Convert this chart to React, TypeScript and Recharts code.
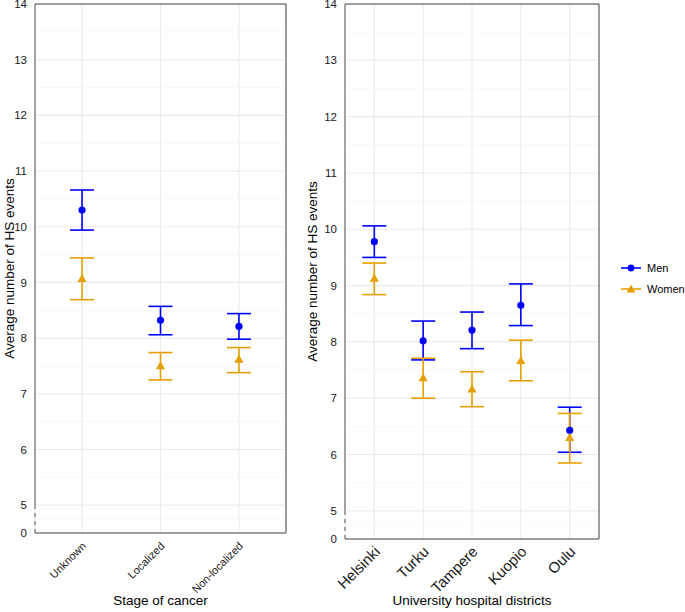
import React from "react";
import {
  ScatterChart,
  Scatter,
  XAxis,
  YAxis,
  CartesianGrid,
  ErrorBar,
  ReferenceLine,
} from "recharts";

const BLUE = "#0000FF";
const ORANGE = "#E69F00";
const FONT = '"Liberation Sans", Arial, Helvetica, sans-serif';

// stage of cancer panel
const stageCategories = ["Unknown", "Localized", "Non-localized"];
const stageMenMean = [10.3, 8.32, 8.21];
const stageMenLow = [9.94, 8.06, 7.98];
const stageMenHigh = [10.66, 8.57, 8.44];
const stageWomenMean = [9.07, 7.5, 7.62];
const stageWomenLow = [8.69, 7.25, 7.38];
const stageWomenHigh = [9.44, 7.74, 7.83];

// hospital district panel
const districts = ["Helsinki", "Turku", "Tampere", "Kuopio", "Oulu"];
const distMenMean = [9.78, 8.02, 8.21, 8.65, 6.43];
const distMenLow = [9.5, 7.68, 7.88, 8.29, 6.04];
const distMenHigh = [10.06, 8.37, 8.53, 9.03, 6.84];
const distWomenMean = [9.13, 7.36, 7.16, 7.67, 6.3];
const distWomenLow = [8.84, 7.0, 6.85, 7.31, 5.85];
const distWomenHigh = [9.4, 7.71, 7.47, 8.03, 6.73];

// y axis is broken: 4.5 stands for "0"
const yTicks = [4.5, 5, 6, 7, 8, 9, 10, 11, 12, 13, 14];
const yMinor = [4.75, 5.5, 6.5, 7.5, 8.5, 9.5, 10.5, 11.5, 12.5, 13.5];

const rows = (mean: number[], low: number[], high: number[]) =>
  mean.map((m, i) => ({ x: i + 1, y: m, err: [m - low[i], high[i] - m] }));

const CircleShape = (p: any) => <circle cx={p.cx} cy={p.cy} r={3.6} fill={BLUE} />;
const TriangleShape = (p: any) => (
  <path
    d={`M${p.cx},${p.cy - 4.6} L${p.cx + 4.6},${p.cy + 3.4} L${p.cx - 4.6},${p.cy + 3.4} Z`}
    fill={ORANGE}
  />
);

function Panel({
  categories,
  men,
  women,
  xTitle,
  width,
  yAxisWidth,
  xAxisHeight,
  xFont,
  tickShift,
}: {
  categories: string[];
  men: any[];
  women: any[];
  xTitle: string;
  width: number;
  yAxisWidth: number;
  xAxisHeight: number;
  xFont: number;
  tickShift: [number, number];
}) {
  const n = categories.length;
  const xMin = 0.4;
  const xMax = n + 0.6;
  const XTick = ({ x, y, payload }: any) => (
    <g transform={`translate(${x + tickShift[0]},${y + tickShift[1]}) rotate(-45)`}>
      <text textAnchor="end" fontSize={xFont} fill="#1a1a1a" fontFamily={FONT} dy="0.35em">
        {categories[payload.value - 1]}
      </text>
    </g>
  );
  return (
    <ScatterChart
      width={width}
      height={612}
      margin={{ top: 4, right: 14, bottom: 0, left: 0 }}
      style={{ fontFamily: FONT }}
    >
      <CartesianGrid stroke="#ebebeb" strokeWidth={1.1} />
      {yMinor.map((v) => (
        <ReferenceLine key={v} y={v} stroke="#f4f4f4" strokeWidth={0.6} />
      ))}
      <XAxis
        type="number"
        dataKey="x"
        domain={[xMin, xMax]}
        ticks={categories.map((_, i) => i + 1)}
        interval={0}
        height={xAxisHeight}
        axisLine={{ stroke: "#808080", strokeWidth: 1.4 }}
        tickLine={false}
        tick={<XTick />}
        label={{
          value: xTitle,
          position: "insideBottom",
          offset: 7,
          style: { fontSize: 13.5, fill: "#000", fontFamily: FONT },
        }}
      />
      <YAxis
        type="number"
        dataKey="y"
        domain={[4.5, 14]}
        ticks={yTicks}
        interval={0}
        allowDataOverflow
        width={yAxisWidth}
        axisLine={false}
        tickLine={false}
        tickFormatter={(v: number) => (v === 4.5 ? "0" : String(v))}
        tick={{ fontSize: 11.5, fill: "#1a1a1a", fontFamily: FONT }}
        label={{
          value: "Average number of HS events",
          angle: -90,
          position: "insideLeft",
          offset: 9,
          style: { fontSize: 13.5, fill: "#000", textAnchor: "middle", fontFamily: FONT },
        }}
      />
      <ReferenceLine
        segment={[
          { x: xMin, y: 5 },
          { x: xMin, y: 14 },
        ]}
        stroke="#808080"
        strokeWidth={1.4}
      />
      <ReferenceLine
        segment={[
          { x: xMin, y: 4.5 },
          { x: xMin, y: 5 },
        ]}
        stroke="#808080"
        strokeWidth={1.4}
        strokeDasharray="4 4"
      />
      <ReferenceLine y={14} stroke="#333" strokeWidth={0.9} />
      <ReferenceLine x={xMax} stroke="#333" strokeWidth={0.9} />
      <Scatter data={men} shape={CircleShape} isAnimationActive={false}>
        <ErrorBar dataKey="err" direction="y" width={12} stroke={BLUE} strokeWidth={1.6} />
      </Scatter>
      <Scatter data={women} shape={TriangleShape} isAnimationActive={false}>
        <ErrorBar dataKey="err" direction="y" width={12} stroke={ORANGE} strokeWidth={1.6} />
      </Scatter>
    </ScatterChart>
  );
}

function LegendIcon({ kind }: { kind: "men" | "women" }) {
  const c = kind === "men" ? BLUE : ORANGE;
  return (
    <svg width={22} height={12} style={{ display: "block" }}>
      <line x1={1} y1={6} x2={21} y2={6} stroke={c} strokeWidth={1.6} />
      {kind === "men" ? (
        <circle cx={11} cy={6} r={3.4} fill={c} />
      ) : (
        <path d="M11,1.6 L15.4,9.6 L6.6,9.6 Z" fill={c} />
      )}
    </svg>
  );
}

export default function App() {
  return (
    <div
      style={{
        position: "absolute",
        left: 0,
        top: 0,
        width: 685,
        height: 612,
        background: "#fff",
        fontFamily: FONT,
      }}
    >
      <div style={{ position: "absolute", left: 0, top: 0 }}>
        <Panel
          categories={stageCategories}
          men={rows(stageMenMean, stageMenLow, stageMenHigh)}
          women={rows(stageWomenMean, stageWomenLow, stageWomenHigh)}
          xTitle="Stage of cancer"
          width={300}
          yAxisWidth={35}
          xAxisHeight={79}
          xFont={11}
          tickShift={[2, 3]}
        />
      </div>
      <div style={{ position: "absolute", left: 303, top: 0 }}>
        <Panel
          categories={districts}
          men={rows(distMenMean, distMenLow, distMenHigh)}
          women={rows(distWomenMean, distWomenLow, distWomenHigh)}
          xTitle="University hospital districts"
          width={310}
          yAxisWidth={42}
          xAxisHeight={73}
          xFont={15}
          tickShift={[3, 2]}
        />
      </div>
      <div style={{ position: "absolute", left: 620, top: 257, fontSize: 11, color: "#000" }}>
        {(["men", "women"] as const).map((k) => (
          <div key={k} style={{ display: "flex", alignItems: "center", height: 21 }}>
            <LegendIcon kind={k} />
            <span style={{ marginLeft: 5 }}>{k === "men" ? "Men" : "Women"}</span>
          </div>
        ))}
      </div>
    </div>
  );
}
